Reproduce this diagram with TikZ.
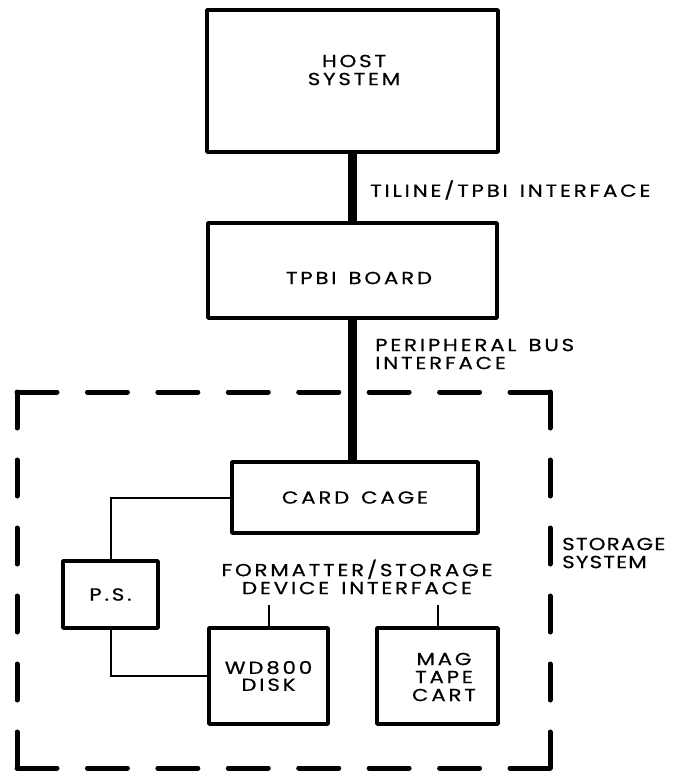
\documentclass[tikz,border=0pt]{standalone}
\usepackage{fontspec}
\setmainfont{Poppins}[LetterSpace=16, FakeStretch=1.22, FakeBold=0.5, WordSpace=1.4]
\begin{document}
\begin{tikzpicture}[x=1pt,y=-1pt,
  box/.style={draw, line width=3.8pt, inner sep=0pt, align=center, line join=round},
  txt/.style={inner sep=0pt, align=center, font=\fontsize{17.5}{18}\selectfont},
  ltxt/.style={inner sep=0pt, align=left, font=\fontsize{17.5}{18}\selectfont},
  bus/.style={line width=8.5pt},
  wire/.style={line width=2pt},
  storh/.style={line width=5pt, line cap=round, dash pattern=on 40pt off 30.43pt},
  storv/.style={line width=5pt, line cap=round, dash pattern=on 36pt off 32pt}]
\useasboundingbox (0,0) rectangle (674,772);
% boxes
\node[box, minimum width=291, minimum height=142] (host) at (352.5,81) {};
\node[txt] (hostT) at (354,70) {HOST\\SYSTEM};
\node[box, minimum width=289, minimum height=95] (tpbi) at (352.5,270.5) {};
\node[txt] (tpbiT) at (359,278) {TPBI BOARD};
\node[box, minimum width=246, minimum height=71, font=\fontsize{17.5}{18}\selectfont] (cage) at (355,497.5) {CARD CAGE};
\node[box, minimum width=95, minimum height=67, font=\fontsize{17.5}{18}\selectfont] (ps) at (110.5,594.5) {P.S.};
\node[box, minimum width=119, minimum height=96, font=\fontsize{17.5}{17}\selectfont] (disk) at (268.5,676) {WD800\\DISK};
\node[box, minimum width=121, minimum height=96] (mag) at (437.5,676) {};
\node[txt] (magT) at (444,677) {MAG\\TAPE\\CART};
% labels
\node[ltxt, anchor=west] (tiline) at (370,190) {TILINE/TPBI INTERFACE};
\node[ltxt, anchor=west] (pbus) at (375,354) {PERIPHERAL BUS\\INTERFACE};
\node[txt] (fmt) at (357,577) {FORMATTER/STORAGE\\DEVICE INTERFACE};
\node[ltxt, anchor=west, font=\fontsize{17.5}{18}\selectfont\addfontfeatures{LetterSpace=7}] (storT) at (562,553) {STORAGE\\SYSTEM};
% storage system boundary
\coordinate (sTL) at (17,392);
\coordinate (sTR) at (550,392);
\coordinate (sBR) at (550,768);
\coordinate (sBL) at (17,768);
\draw[storh] (sTL) -- (sTR);
\draw[storv] (sTR) -- (sBR);
\draw[storh] (sBL) -- (sBR);
\draw[storv] (sTL) -- (sBL);
% connectors
\draw[bus] (host.south) -- (tpbi.north);
\draw[bus] (tpbi.south) -- (tpbi.south |- cage.north);
\draw[wire] (cage.west) -| (ps.north);
\draw[wire] (ps.south) |- (disk.west);
\coordinate (s1) at (268.5,605);
\coordinate (s2) at (437.5,605);
\draw[wire] (s1) -- (disk.north);
\draw[wire] (s2) -- (mag.north);
\end{tikzpicture}
\end{document}
